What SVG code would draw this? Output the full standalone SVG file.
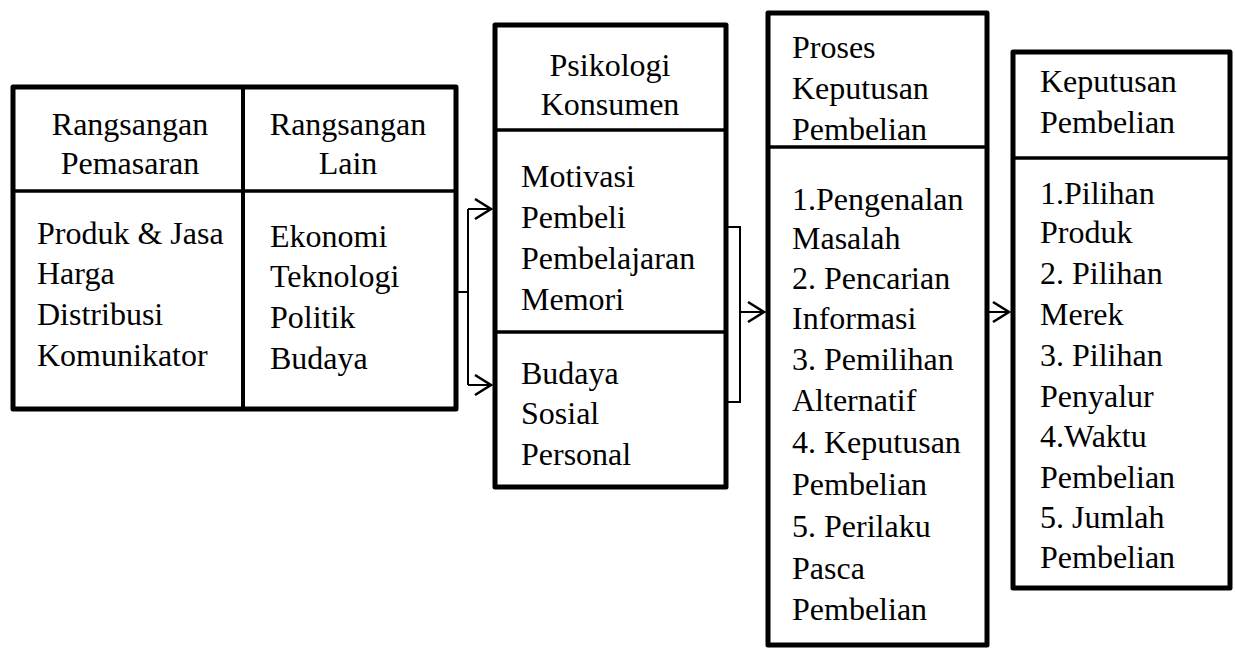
<svg xmlns="http://www.w3.org/2000/svg" width="1235" height="648" viewBox="0 0 1235 648">
<style>
.box{fill:#fff;stroke:#000;stroke-width:5;stroke-linejoin:round}
.div{stroke:#000;stroke-width:3.5;fill:none}
.con{stroke:#000;stroke-width:2;fill:none}
text{font-family:"Liberation Serif","Times New Roman",serif;font-size:32px;fill:#000}
.c{text-anchor:middle}
</style>
<defs>
<marker id="arr" markerUnits="userSpaceOnUse" viewBox="-20 -12 22 24" refX="0" refY="0" markerWidth="22" markerHeight="24" orient="auto">
<path d="M-16,-10 L0,0 L-16,10" fill="none" stroke="#000" stroke-width="2.6"/>
</marker>
</defs>
<g id="node-rangsangan">
<rect class="box" x="13" y="87" width="443" height="322"/>
<line class="div" x1="243" y1="87" x2="243" y2="409" style="stroke-width:4"/>
<line class="div" x1="13" y1="191" x2="456" y2="191"/>
<text class="c" x="130" y="135">Rangsangan</text>
<text class="c" x="130" y="174">Pemasaran</text>
<text class="c" x="348" y="135">Rangsangan</text>
<text class="c" x="348" y="174">Lain</text>
<text x="37" y="244">Produk &amp; Jasa</text>
<text x="37" y="284">Harga</text>
<text x="37" y="325">Distribusi</text>
<text x="37" y="366">Komunikator</text>
<text x="270" y="247">Ekonomi</text>
<text x="270" y="287">Teknologi</text>
<text x="270" y="328">Politik</text>
<text x="270" y="369">Budaya</text>
</g>
<g id="node-psikologi">
<rect class="box" x="495" y="25" width="231" height="462"/>
<line class="div" x1="495" y1="130" x2="726" y2="130"/>
<line class="div" x1="495" y1="332" x2="726" y2="332"/>
<text class="c" x="610" y="76">Psikologi</text>
<text class="c" x="610" y="115">Konsumen</text>
<text x="521" y="187">Motivasi</text>
<text x="521" y="228">Pembeli</text>
<text x="521" y="269">Pembelajaran</text>
<text x="521" y="310">Memori</text>
<text x="521" y="384">Budaya</text>
<text x="521" y="424">Sosial</text>
<text x="521" y="465">Personal</text>
</g>
<g id="node-proses">
<rect class="box" x="768" y="13" width="219" height="632"/>
<line class="div" x1="768" y1="147" x2="987" y2="147"/>
<text x="792" y="58">Proses</text>
<text x="792" y="99">Keputusan</text>
<text x="792" y="140">Pembelian</text>
<text x="792" y="210">1.Pengenalan</text>
<text x="792" y="249">Masalah</text>
<text x="792" y="289">2. Pencarian</text>
<text x="792" y="329">Informasi</text>
<text x="792" y="370">3. Pemilihan</text>
<text x="792" y="411">Alternatif</text>
<text x="792" y="453">4. Keputusan</text>
<text x="792" y="495">Pembelian</text>
<text x="792" y="537">5. Perilaku</text>
<text x="792" y="579">Pasca</text>
<text x="792" y="620">Pembelian</text>
</g>
<g id="node-keputusan">
<rect class="box" x="1013" y="52" width="217" height="536"/>
<line class="div" x1="1013" y1="158" x2="1228" y2="158"/>
<text x="1040" y="92">Keputusan</text>
<text x="1040" y="133">Pembelian</text>
<text x="1040" y="204">1.Pilihan</text>
<text x="1040" y="243">Produk</text>
<text x="1040" y="284">2. Pilihan</text>
<text x="1040" y="325">Merek</text>
<text x="1040" y="366">3. Pilihan</text>
<text x="1040" y="407">Penyalur</text>
<text x="1040" y="447">4.Waktu</text>
<text x="1040" y="488">Pembelian</text>
<text x="1040" y="528">5. Jumlah</text>
<text x="1040" y="568">Pembelian</text>
</g>
<g id="connectors">
<line class="con" x1="458" y1="292" x2="469" y2="292"/>
<line class="con" x1="468" y1="209" x2="468" y2="385"/>
<line class="con" x1="468" y1="209" x2="491" y2="209" marker-end="url(#arr)"/>
<line class="con" x1="468" y1="385" x2="491" y2="385" marker-end="url(#arr)"/>
<polyline class="con" points="728,227 740,227 740,402 728,402"/>
<line class="con" x1="740" y1="312" x2="764" y2="312" marker-end="url(#arr)"/>
<line class="con" x1="989" y1="312" x2="1009" y2="312" marker-end="url(#arr)"/>
</g>
</svg>
